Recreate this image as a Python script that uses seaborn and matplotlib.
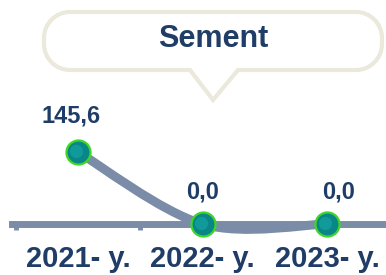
import numpy as np
import pandas as pd
import seaborn as sns
import matplotlib.pyplot as plt
from matplotlib.path import Path
from matplotlib.patches import PathPatch

# chart data
years = ["2021- y.", "2022- y.", "2023- y."]
values = [145.6, 0.0, 0.0]
value_labels = ["145,6", "0,0", "0,0"]
title = "Sement"

line_col = "#7b8ca8"
text_col = "#1f3d66"

sns.set_style("white")
plt.rcParams['font.family'] = ['Liberation Sans', 'DejaVu Sans']

df = pd.DataFrame({"x": np.arange(len(years)), "y": values})

fig = plt.figure(figsize=(3.86, 2.75), dpi=100)

# callout bubble in pixel coordinates (drawn first, behind the chart)
ov = fig.add_axes([0, 0, 1, 1])
ov.set_xlim(0, 386)
ov.set_ylim(275, 0)
ov.axis("off")
L, R, T, B, r = 44, 382, 12, 70, 26
k = 0.5523 * r
bv = [(L + r, T), (R - r, T),
      (R - r + k, T), (R, T + r - k), (R, T + r),
      (R, B - r),
      (R, B - r + k), (R - r + k, B), (R - r, B),
      (238, B), (213, 100), (190, B), (L + r, B),
      (L + r - k, B), (L, B - r + k), (L, B - r),
      (L, T + r),
      (L, T + r - k), (L + r - k, T), (L + r, T),
      (L + r, T)]
bc = [Path.MOVETO, Path.LINETO,
      Path.CURVE4, Path.CURVE4, Path.CURVE4,
      Path.LINETO,
      Path.CURVE4, Path.CURVE4, Path.CURVE4,
      Path.LINETO, Path.LINETO, Path.LINETO, Path.LINETO,
      Path.CURVE4, Path.CURVE4, Path.CURVE4,
      Path.LINETO,
      Path.CURVE4, Path.CURVE4, Path.CURVE4,
      Path.CLOSEPOLY]
ov.add_patch(PathPatch(Path(bv, bc), facecolor="white", edgecolor="#ebe8dc", lw=3))
ov.text(213, 39, title, ha="center", va="center", fontsize=22,
        fontweight="bold", color=text_col)

ax = fig.add_axes([0, 0, 1, 1])
ax.patch.set_visible(False)
ax.set_xlim(-0.627, 2.474)
ax.set_ylim(-103.1, 453)

# smoothed line (Catmull-Rom style bezier through the data points)
pts = df[["x", "y"]].to_numpy()
verts = [tuple(pts[0])]
codes = [Path.MOVETO]
n = len(pts)
for i in range(n - 1):
    p_prev = pts[i - 1] if i > 0 else pts[i]
    p_next2 = pts[i + 2] if i + 2 < n else pts[i + 1]
    c1 = pts[i] + (pts[i + 1] - p_prev) / 6
    c2 = pts[i + 1] - (p_next2 - pts[i]) / 6
    verts += [tuple(c1), tuple(c2), tuple(pts[i + 1])]
    codes += [Path.CURVE4] * 3
ax.add_patch(PathPatch(Path(verts, codes), fill=False, edgecolor=line_col,
                       lw=6.5, capstyle="round", zorder=3))

# markers
sns.scatterplot(data=df, x="x", y="y", s=300, color="#0a8686",
                edgecolor="#3fd62a", linewidth=1.6, zorder=5, ax=ax, legend=False)
sns.scatterplot(data=df, x=df["x"] - 0.015, y=df["y"] + 3, s=90, color="#15a9a9",
                linewidth=0, alpha=0.6, zorder=6, ax=ax, legend=False)

# value labels
offsets = [(-7, 36), (0, 32), (12, 32)]
for i, (lab, off) in enumerate(zip(value_labels, offsets)):
    ax.annotate(lab, (i, values[i]), xytext=off, textcoords="offset pixels",
                ha="center", va="center", fontsize=17, fontweight="bold",
                color=text_col, zorder=7)

# axis line
for s in ["top", "left", "right"]:
    ax.spines[s].set_visible(False)
ax.spines["bottom"].set_position(("data", 0))
ax.spines["bottom"].set_color(line_col)
ax.spines["bottom"].set_linewidth(5)
ax.spines["bottom"].set_bounds(-0.53, 2.6)
ax.spines["bottom"].set_zorder(2)
ax.set_yticks([])
ax.set_xticks(df["x"])
ax.set_xticklabels(years, fontsize=21, fontweight="bold", color=text_col)
ax.set_xticks([-0.5, 0.5, 1.5], minor=True)
ax.tick_params(axis="x", which="major", length=0, pad=15)
ax.tick_params(axis="x", which="minor", bottom=True, direction="out",
               length=4, width=3.5, color=line_col)
ax.set_xlabel("")
ax.set_ylabel("")

fig.savefig("out.png", dpi=100)
